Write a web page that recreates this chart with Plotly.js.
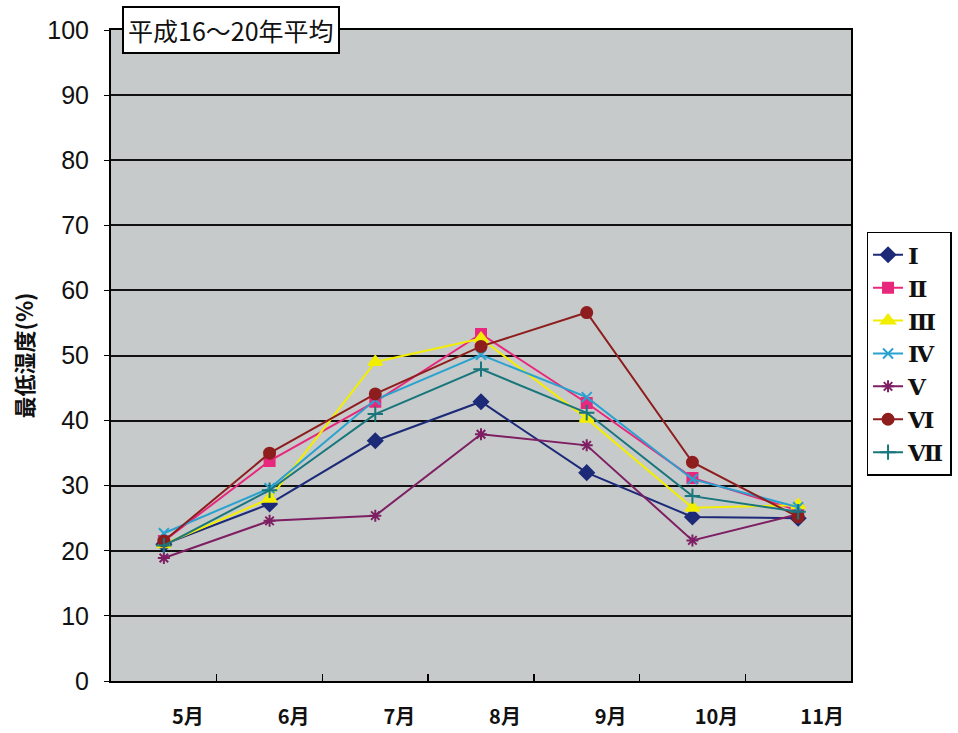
<!DOCTYPE html>
<html>
<head>
<meta charset="utf-8">
<script src="https://cdn.plot.ly/plotly-3.0.1.min.js"></script>
<style>html,body{margin:0;padding:0;background:#fff;}#chart{width:958px;height:733px;}</style>
</head>
<body>
<div id="chart"></div>
<script>
const months = ["5月", "6月", "7月", "8月", "9月", "10月", "11月"];
const seriesNames = ["Ⅰ", "Ⅱ", "Ⅲ", "Ⅳ", "Ⅴ", "Ⅵ", "Ⅶ"];
const s1 = [21.0, 27.2, 36.9, 42.9, 32.0, 25.2, 25.0];
const s2 = [21.5, 33.8, 42.9, 53.3, 42.7, 31.2, 26.2];
const s3 = [21.0, 28.0, 49.0, 52.6, 40.3, 26.6, 27.0];
const s4 = [22.7, 29.6, 43.2, 50.1, 43.6, 31.0, 26.7];
const s5 = [18.9, 24.6, 25.4, 37.9, 36.2, 21.6, 25.6];
const s6 = [21.5, 35.0, 44.1, 51.4, 56.6, 33.6, 25.2];
const s7 = [20.8, 29.3, 41.0, 47.9, 41.2, 28.4, 26.0];
const yTicks = [0, 10, 20, 30, 40, 50, 60, 70, 80, 90, 100];

const colors = ["#1c2a78", "#e8287c", "#f2ee00", "#2aa2cf", "#7d1f62", "#8e1d1d", "#18767c"];
const symbols = ["diamond", "square", "triangle-up", "x-thin-open", "asterisk-open", "circle", "cross-thin-open"];
const sizes = [11, 10, 12, 10, 10, 11, 11];
const allSeries = [s1, s2, s3, s4, s5, s6, s7];

const traces = allSeries.map((vals, i) => ({
  type: "scatter",
  mode: "lines+markers",
  name: seriesNames[i],
  x: months,
  y: vals,
  line: {color: colors[i], width: 2},
  marker: {symbol: symbols[i], size: sizes[i], color: colors[i], line: {color: colors[i], width: 2}}
}));

const layout = {
  width: 958, height: 733,
  margin: {l: 111, r: 107, t: 30, b: 52, autoexpand: false},
  paper_bgcolor: "#ffffff",
  plot_bgcolor: "#c7cacb",
  showlegend: true,
  legend: {
    x: 1.021, y: 0.69, xanchor: "left", yanchor: "top",
    bgcolor: "#ffffff", bordercolor: "#000000", borderwidth: 1.5,
    font: {family: "DejaVu Serif", size: 23, color: "#111", weight: "bold"},
    tracegroupgap: 0, itemwidth: 30
  },
  xaxis: {
    type: "category",
    tickson: "boundaries",
    ticks: "inside", ticklen: 7, tickwidth: 1.5, tickcolor: "#000",
    showgrid: false,
    showline: true, linecolor: "#000", linewidth: 2, mirror: true,
    tickfont: {family: "Noto Sans CJK JP", size: 20, color: "#111", weight: "bold"},
    ticklabelshift: 24,
    ticklabelstandoff: 17,
    range: [-0.5, 6.5]
  },
  yaxis: {
    range: [0, 100],
    tickvals: yTicks,
    ticktext: yTicks.map(String),
    ticks: "outside", ticklen: 5, tickcolor: "#000",
    showgrid: true, gridcolor: "#111", gridwidth: 2,
    showline: true, linecolor: "#000", linewidth: 2, mirror: true,
    zeroline: false,
    tickfont: {family: "Liberation Sans", size: 25, color: "#111"},
    ticklabelstandoff: 10,
    title: {text: "最低湿度(%)", font: {family: "Noto Sans CJK JP", size: 22, color: "#111", weight: "bold"}, standoff: 8}
  },
  annotations: [{
    xref: "paper", yref: "paper", x: 0.015, y: 1.0, xanchor: "left", yanchor: "middle",
    text: "平成16～20年平均", showarrow: false,
    font: {family: "Noto Sans CJK JP", size: 25, color: "#111"},
    bgcolor: "#ffffff", bordercolor: "#000000", borderwidth: 2, borderpad: 4
  }]
};

Plotly.newPlot("chart", traces, layout, {displayModeBar: false, staticPlot: true});
</script>
</body>
</html>
